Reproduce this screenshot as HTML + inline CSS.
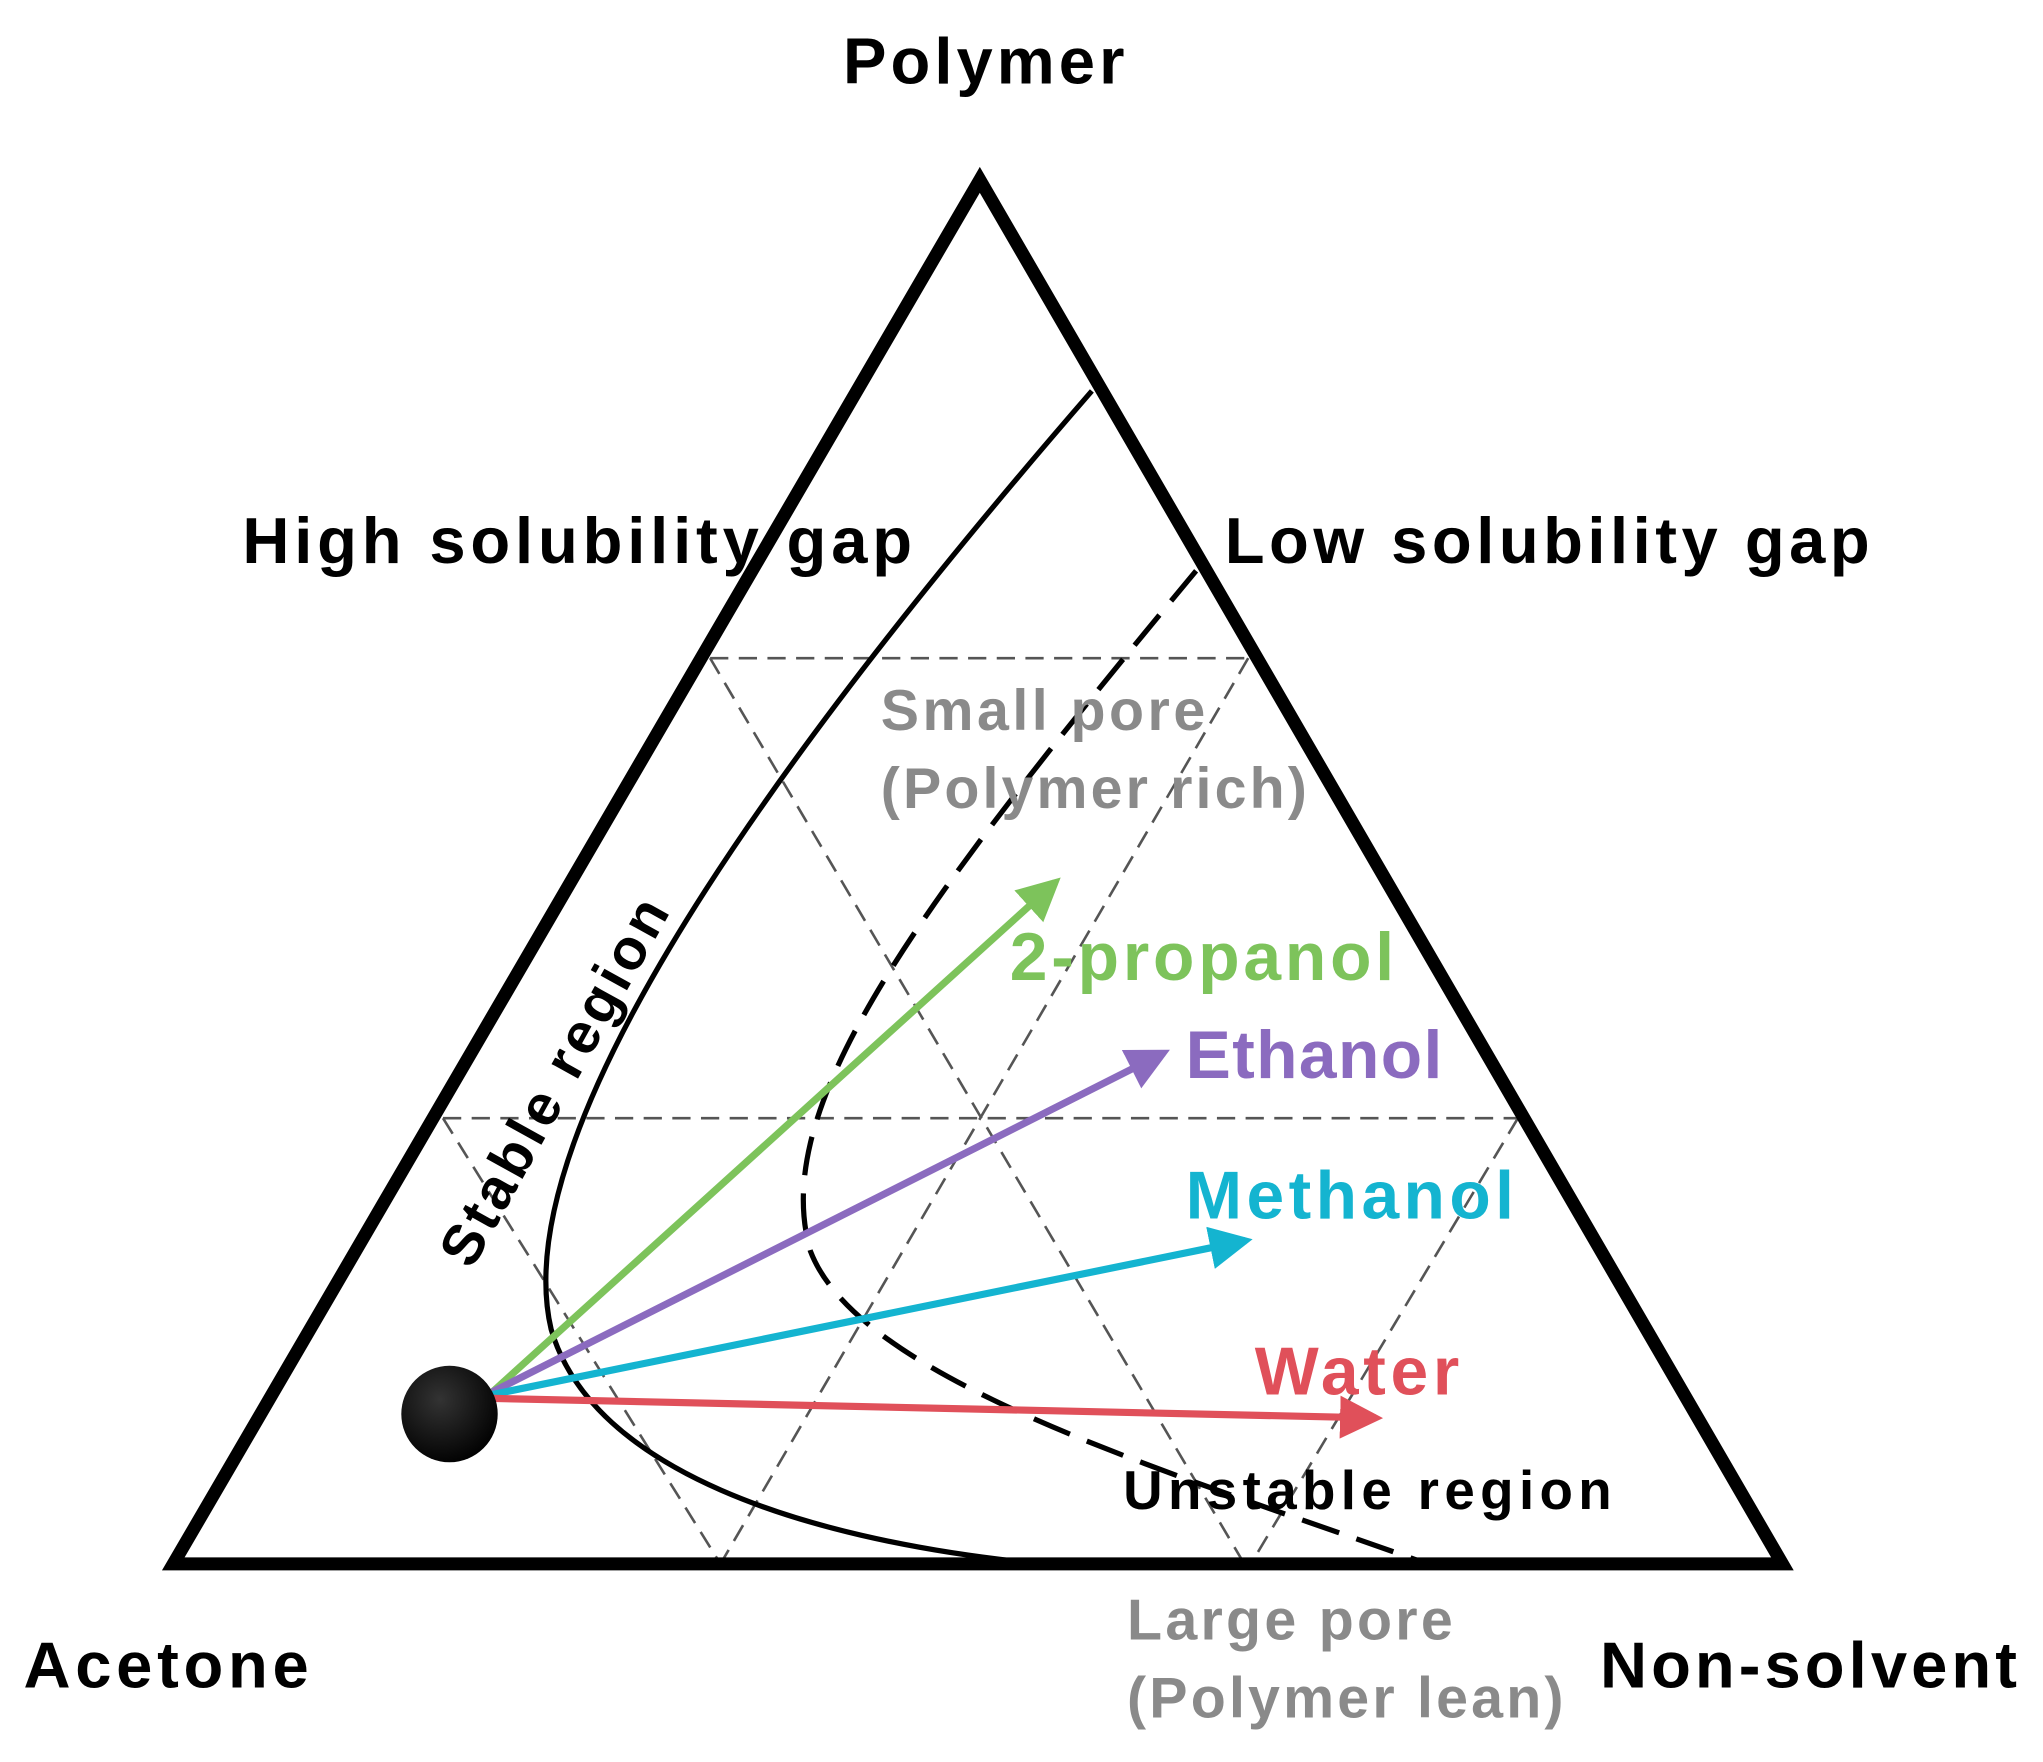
<!DOCTYPE html>
<html><head><meta charset="utf-8"><style>html,body{margin:0;padding:0;background:#fff}svg{display:block}</style></head>
<body>
<svg width="2043" height="1762" viewBox="0 0 1568 1352" preserveAspectRatio="none" xmlns="http://www.w3.org/2000/svg" font-family="'Liberation Sans',sans-serif" font-weight="bold">
<defs>
<radialGradient id="g" cx="0.4" cy="0.35" r="0.7"><stop offset="0" stop-color="#333"/><stop offset="1" stop-color="#000"/></radialGradient>
<marker id="ag" markerWidth="6" markerHeight="6" refX="5" refY="3" orient="auto" markerUnits="strokeWidth"><path d="M0,0 L6,3 L0,6 z" fill="#7dc35b"/></marker>
<marker id="ap" markerWidth="6" markerHeight="6" refX="5" refY="3" orient="auto" markerUnits="strokeWidth"><path d="M0,0 L6,3 L0,6 z" fill="#8b6bbf"/></marker>
<marker id="ac" markerWidth="6" markerHeight="6" refX="5" refY="3" orient="auto" markerUnits="strokeWidth"><path d="M0,0 L6,3 L0,6 z" fill="#14b4d0"/></marker>
<marker id="ar" markerWidth="6" markerHeight="6" refX="5" refY="3" orient="auto" markerUnits="strokeWidth"><path d="M0,0 L6,3 L0,6 z" fill="#e0505a"/></marker>
</defs>
<g stroke="#555" stroke-width="2" stroke-dasharray="14,8" fill="none">
<line x1="545" y1="505" x2="958" y2="505"/>
<line x1="340" y1="858" x2="1165" y2="858"/>
<line x1="545" y1="505" x2="955" y2="1200"/>
<line x1="958" y1="505" x2="553" y2="1200"/>
<line x1="340" y1="858" x2="553" y2="1200"/>
<line x1="1165" y1="858" x2="960" y2="1200"/>
</g>
<path d="M838,300 C 560,620 390,880 423,1020 C 455,1130 620,1180 780,1198" fill="none" stroke="#000" stroke-width="4"/>
<path d="M918,438 C 700,700 590,850 622,960 C 660,1060 900,1130 1090,1198" fill="none" stroke="#000" stroke-width="4" stroke-dasharray="30,14"/>
<polygon points="752,138 133,1200 1368,1200" fill="none" stroke="#000" stroke-width="10" stroke-linejoin="miter"/>
<line x1="378" y1="1068" x2="810" y2="677" stroke="#7dc35b" stroke-width="5.5" marker-end="url(#ag)"/>
<line x1="378" y1="1068" x2="893" y2="808" stroke="#8b6bbf" stroke-width="5.5" marker-end="url(#ap)"/>
<line x1="378" y1="1070" x2="956" y2="952" stroke="#14b4d0" stroke-width="5.5" marker-end="url(#ac)"/>
<line x1="378" y1="1073" x2="1056" y2="1088" stroke="#e0505a" stroke-width="5.5" marker-end="url(#ar)"/>
<circle cx="345" cy="1085" r="37" fill="url(#g)"/>
<g font-size="50" fill="#000">
<text x="647" y="64" textLength="216">Polymer</text>
<text x="186" y="432" textLength="514">High solubility gap</text>
<text x="940" y="432" textLength="495">Low solubility gap</text>
<text x="18" y="1295" textLength="219">Acetone</text>
<text x="1228" y="1295" textLength="320">Non-solvent</text>
</g>
<g font-size="44" fill="#8a8a8a">
<text x="676" y="560" textLength="249">Small pore</text>
<text x="676" y="620" textLength="327">(Polymer rich)</text>
<text x="865" y="1258" textLength="250">Large pore</text>
<text x="865" y="1318" textLength="335">(Polymer lean)</text>
</g>
<text x="862" y="1158" font-size="42" fill="#000" textLength="375">Unstable region</text>
<text x="0" y="0" font-size="44" fill="#000" transform="translate(362,975) rotate(-61)" textLength="315">Stable region</text>
<g font-size="52">
<text x="775" y="752" fill="#7dc35b" textLength="295">2-propanol</text>
<text x="910" y="827" fill="#8b6bbf" textLength="197">Ethanol</text>
<text x="910" y="935" fill="#14b4d0" textLength="252">Methanol</text>
<text x="963" y="1070" fill="#e0505a" textLength="157">Water</text>
</g>
</svg>
</body></html>
